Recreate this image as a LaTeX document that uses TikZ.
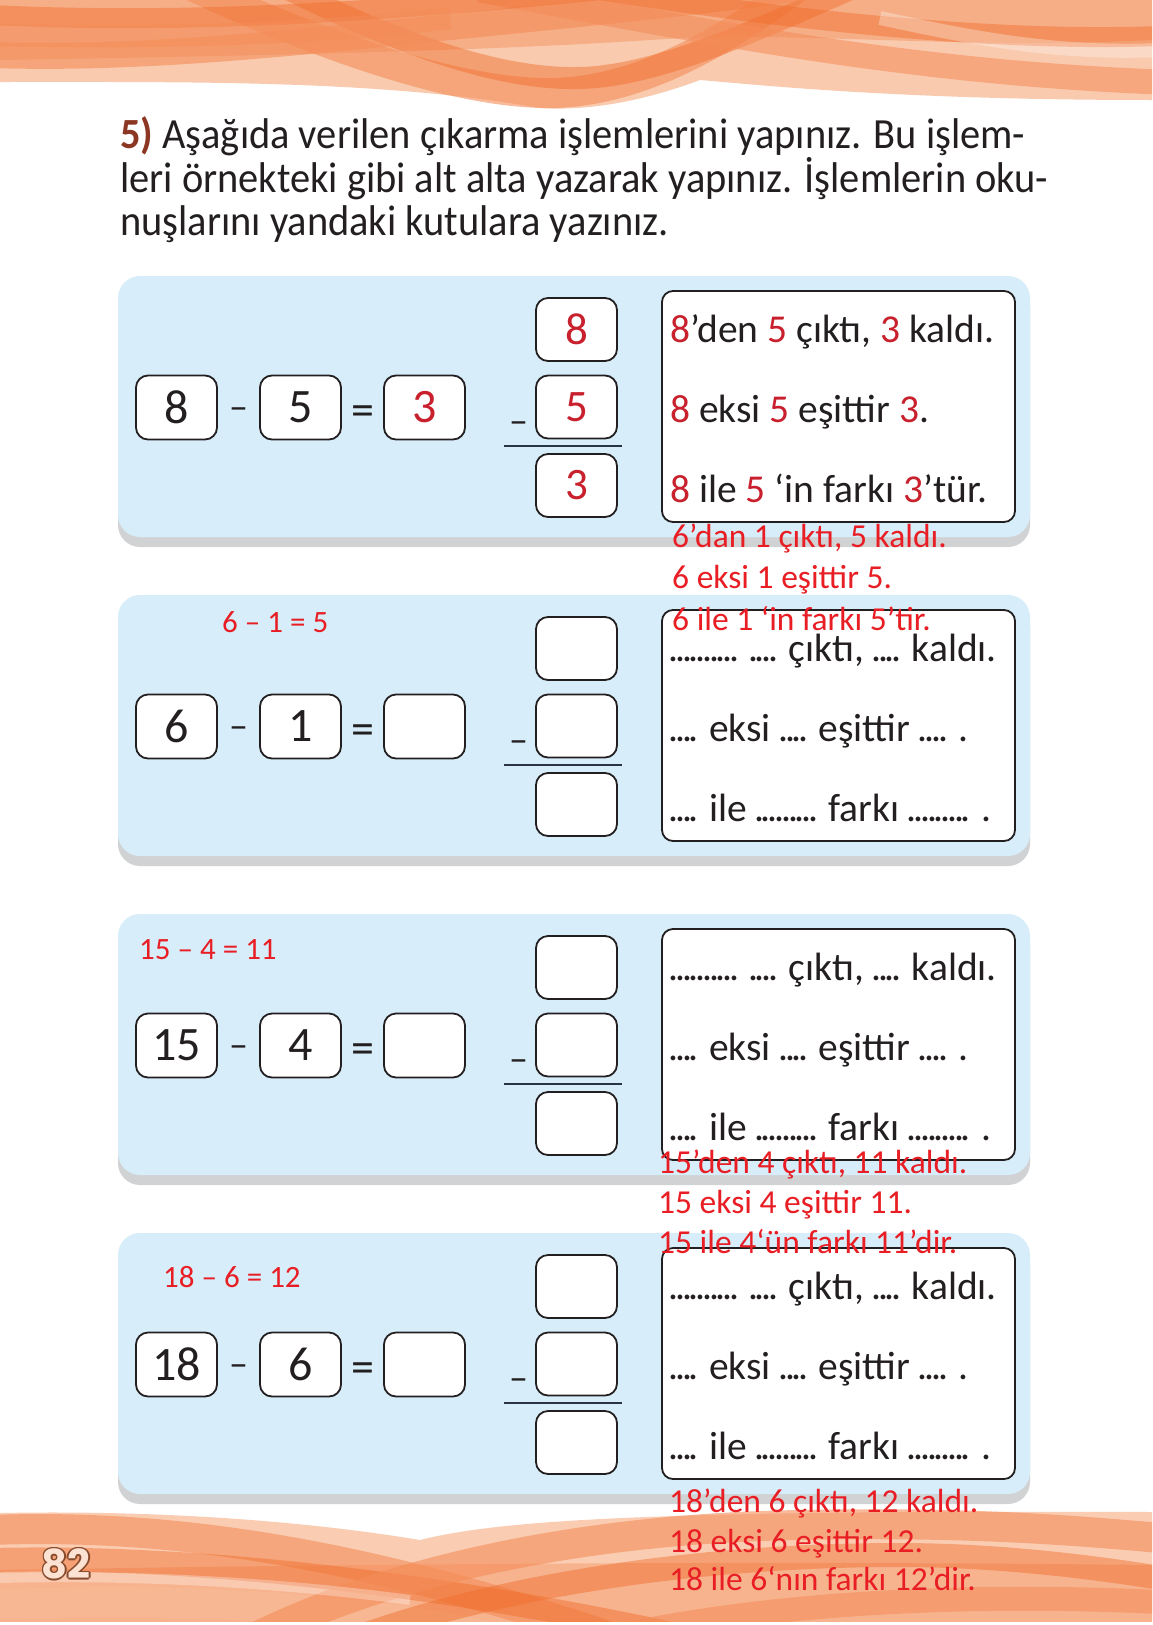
\documentclass[tikz,border=0pt]{standalone}
\usepackage{fontspec}
\setmainfont{Carlito}
\newfontfamily\headfont[FakeStretch=0.94]{Carlito}
\newfontfamily\pagefont{Poppins}
\definecolor{panelblue}{RGB}{215,238,250}
\definecolor{shadowgray}{RGB}{208,210,212}
\definecolor{ink}{RGB}{35,31,32}
\definecolor{rulecol}{RGB}{40,52,66}
\definecolor{bookred}{RGB}{200,33,45}
\definecolor{annred}{RGB}{232,30,36}
\definecolor{headbrown}{RGB}{140,55,35}
\definecolor{orD}{RGB}{240,108,42}
\definecolor{orM}{RGB}{244,140,88}
\definecolor{orL}{RGB}{248,185,148}
\definecolor{pagebrown}{RGB}{135,75,45}
\definecolor{pagefill}{RGB}{252,226,210}
\tikzset{
 numbox/.style={draw=ink, line width=1.8pt, fill=white, rounded corners=12pt, minimum width=81pt, minimum height=64pt, inner sep=0pt, font=\fontsize{48}{48}\selectfont, text=ink},
 colbox/.style={numbox, minimum height=63pt, font=\fontsize{45}{45}\selectfont},
 textbox/.style={draw=ink, line width=1.8pt, fill=white, rounded corners=11pt, minimum width=353pt, minimum height=231pt, inner sep=0pt},
 sign/.style={font=\fontsize{38}{38}\selectfont, text=ink, inner sep=0pt, anchor=base},
 eqsign/.style={sign, font=\fontsize{46}{46}\selectfont},
 rule/.style={draw=rulecol, line width=2pt},
 readline/.style={anchor=base west, inner sep=0pt, font=\fontsize{39.5}{39.5}\selectfont, text=ink},
 ann/.style={anchor=base west, inner sep=0pt, font=\fontsize{33.5}{33.5}\selectfont, text=annred},
 anneq/.style={ann, font=\fontsize{31}{31}\selectfont},
 headline/.style={anchor=base west, inner sep=0pt, font=\headfont\fontsize{43}{43}\selectfont, text=ink},
 pagenum/.style={inner sep=0pt, font=\pagefont\bfseries\fontsize{40}{40}\selectfont},
 ribbon/.style={line width=#1, line cap=butt},
}
\newcommand\mydots[1]{\foreach\q in {1,...,#1}{\kern-1.6pt.\kern-1.6pt}}
\newcommand\mypanel[8]{%
 \node[numbox] (#1a) at (176.5,{407.5+#2}) {#3};
 \node[sign] (#1m) at (238.5,{419+#2}) {–};
 \node[numbox] (#1b) at (300.5,{407.5+#2}) {#4};
 \node[eqsign] (#1e) at (362.5,{425+#2}) {=};
 \node[numbox] (#1c) at (424.5,{407.5+#2}) {#5};
 \node[colbox] (#1t) at (576.5,{329.5+#2}) {#6};
 \node[colbox] (#1u) at (576.5,{407+#2}) {#7};
 \node[colbox] (#1v) at (576.5,{485.5+#2}) {#8};
 \node[sign] (#1cm) at (518.5,{433+#2}) {–};
 \coordinate (#1l) at (504,{446+#2});
 \coordinate (#1r) at (622,{446+#2});
 \draw[rule] (#1l) -- (#1r);
 \node[textbox] (#1x) at (838.5,{406.5+#2}) {};
}
\begin{document}
\begin{tikzpicture}[x=1pt,y=-1pt]
\useasboundingbox (0,0) rectangle (1152,1625);
\fill[white] (0,0) rectangle (1152,1625);
% ---------- top waves
\begin{scope}
\clip (0,0) rectangle (1152,1625);
\fill[orL, opacity=.75] (0,0) -- (1152,0) -- (1152,100) .. controls (900,100) and (760,85) .. (700,80) .. controls (660,95) and (600,112) .. (540,108) .. controls (380,80) and (200,82) .. (0,82) -- cycle;
\fill[orM, opacity=.45] (0,0) -- (1152,0) -- (1152,40) .. controls (950,50) and (800,30) .. (650,40) .. controls (500,50) and (300,55) .. (0,60) -- cycle;
\draw[orM, opacity=.6, ribbon=30pt] (190,-15) .. controls (340,55) and (470,95) .. (555,93) .. controls (640,90) and (720,45) .. (800,-15);
\draw[orD, opacity=.45, ribbon=22pt] (280,-15) .. controls (400,45) and (500,80) .. (580,78) .. controls (660,76) and (760,28) .. (860,-15);
\draw[orM, opacity=.6, ribbon=26pt] (-10,55) .. controls (150,60) and (300,42) .. (500,22) .. controls (600,12) and (700,2) .. (800,-12);
\draw[orM, opacity=.55, ribbon=25pt] (480,-10) .. controls (700,30) and (900,72) .. (1160,82);
\draw[orD, opacity=.45, ribbon=20pt] (600,-10) .. controls (800,22) and (1000,42) .. (1160,36);
\draw[orD, opacity=.45, ribbon=20pt] (-10,15) .. controls (200,25) and (400,10) .. (600,-10);
\draw[orM, opacity=.5, ribbon=22pt] (-10,35) .. controls (200,40) and (350,30) .. (450,18);
\draw[white, opacity=.3, ribbon=14pt] (880,18) .. controls (960,35) and (1050,55) .. (1160,50);
% ---------- bottom waves
\fill[orL, opacity=.7] (0,1513) .. controls (150,1510) and (300,1520) .. (420,1540) .. controls (500,1520) and (650,1510) .. (1152,1512) -- (1152,1622) -- (0,1622) -- cycle;
\fill[orM, opacity=.4] (0,1570) .. controls (300,1565) and (700,1560) .. (1152,1565) -- (1152,1622) -- (0,1622) -- cycle;
\draw[orM, opacity=.6, ribbon=30pt] (-10,1530) .. controls (200,1522) and (400,1565) .. (620,1640);
\draw[orD, opacity=.45, ribbon=24pt] (-10,1560) .. controls (200,1555) and (450,1585) .. (700,1640);
\draw[orL, opacity=.7, ribbon=30pt] (-10,1605) .. controls (200,1595) and (400,1612) .. (500,1640);
\draw[orM, opacity=.6, ribbon=30pt] (250,1640) .. controls (400,1565) and (600,1528) .. (800,1525) .. controls (950,1522) and (1050,1528) .. (1160,1538);
\draw[orD, opacity=.45, ribbon=24pt] (350,1640) .. controls (500,1585) and (700,1555) .. (900,1555) .. controls (1000,1555) and (1100,1568) .. (1160,1578);
\draw[orM, opacity=.55, ribbon=24pt] (600,1640) .. controls (750,1605) and (950,1592) .. (1160,1602);
\draw[white, opacity=.3, ribbon=10pt] (0,1578) .. controls (150,1574) and (300,1585) .. (410,1600);
\fill[white] (0,1622) rectangle (1152,1625);
\end{scope}
% ---------- heading
\node[headline] (h1) at (120,148) {{\color{headbrown}\bfseries 5)} Aşağıda verilen çıkarma işlemlerini yapınız. Bu işlem-};
\node[headline] (h2) at (120,192) {leri örnekteki gibi alt alta yazarak yapınız. İşlemlerin oku-};
\node[headline] (h3) at (120,235) {nuşlarını yandaki kutulara yazınız.};
% ---------- panels
\foreach \o in {0,319,638,957} {
 \fill[shadowgray, rounded corners=22pt] (118,{286+\o}) rectangle (1030,{547+\o});
 \fill[panelblue, rounded corners=22pt] (118,{276+\o}) rectangle (1030,{537+\o});
}
\mypanel{p1}{0}{8}{5}{\color{bookred}3}{\color{bookred}8}{\color{bookred}5}{\color{bookred}3}
\mypanel{p2}{319}{6}{1}{}{}{}{}
\mypanel{p3}{638}{15}{4}{}{}{}{}
\mypanel{p4}{957}{18}{6}{}{}{}{}
% text lines
\node[readline] (p1r1) at (670,342) {{\color{bookred}8}’den {\color{bookred}5} çıktı, {\color{bookred}3} kaldı.};
\node[readline] (p1r2) at (670,422) {{\color{bookred}8} eksi {\color{bookred}5} eşittir {\color{bookred}3}.};
\node[readline] (p1r3) at (670,502) {{\color{bookred}8} ile {\color{bookred}5} ‘in farkı {\color{bookred}3}’tür.};
\foreach \o/\i in {319/2,638/3,957/4} {
 \node[readline] (p\i r1) at (670,{342+\o}) {\mydots{10} \mydots{4} çıktı, \mydots{4} kaldı.};
 \node[readline] (p\i r2) at (670,{422+\o}) {\mydots{4} eksi \mydots{4} eşittir \mydots{4} .};
 \node[readline] (p\i r3) at (670,{502+\o}) {\mydots{4} ile \mydots{9} farkı \mydots{9} .};
}
% ---------- page number
\foreach \dx/\dy [count=\k] in {1.6/0,-1.6/0,0/1.6,0/-1.6,1.1/1.1,-1.1/1.1,1.1/-1.1,-1.1/-1.1} {
 \node[pagenum, text=pagebrown] (pgs\k) at ({66+\dx},{1564+\dy}) {82};
}
\node[pagenum, text=pagefill] (pg) at (66,1564) {82};
% ---------- red annotations
\node[anneq] (e2) at (222,632) {6 – 1 = 5};
\node[anneq] (e3) at (139,959) {15 – 4 = 11};
\node[anneq] (e4) at (163,1287) {18 – 6 = 12};
\node[ann] (a21) at (672,547) {6’dan 1 çıktı, 5 kaldı.};
\node[ann] (a22) at (672,588) {6 eksi 1 eşittir 5.};
\node[ann] (a23) at (672,630) {6 ile 1 ‘in farkı 5’tir.};
\node[ann] (a31) at (658,1173) {15’den 4 çıktı, 11 kaldı.};
\node[ann] (a32) at (658,1213) {15 eksi 4 eşittir 11.};
\node[ann] (a33) at (658,1253) {15 ile 4‘ün farkı 11’dir.};
\node[ann] (a41) at (669,1512) {18’den 6 çıktı, 12 kaldı.};
\node[ann] (a42) at (669,1552) {18 eksi 6 eşittir 12.};
\node[ann] (a43) at (669,1590) {18 ile 6‘nın farkı 12’dir.};
\end{tikzpicture}
\end{document}
